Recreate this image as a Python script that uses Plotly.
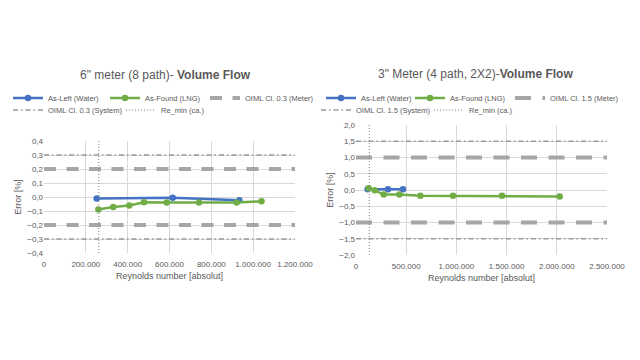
import plotly.graph_objects as go

# ---------------- data ----------------
# Left chart: 6" meter (8 path)
l_asleft_x = [252000, 615000, 934000]
l_asleft_y = [-0.010, -0.005, -0.024]
l_asfound_x = [260000, 331000, 408000, 478000, 587000, 741000, 921000, 1040000]
l_asfound_y = [-0.090, -0.071, -0.061, -0.038, -0.040, -0.040, -0.040, -0.031]
l_meter_limit = 0.2
l_system_limit = 0.3
l_remin = 262000
l_xmax = 1200000
l_ymin, l_ymax = -0.4, 0.4

# Right chart: 3" Meter (4 path, 2X2)
r_asleft_x = [116000, 319000, 468000]
r_asleft_y = [0.02, 0.02, 0.02]
r_asfound_x = [126000, 186000, 276000, 432000, 641000, 966000, 1454000, 2029000]
r_asfound_y = [0.05, -0.01, -0.14, -0.14, -0.18, -0.18, -0.18, -0.20]
r_meter_limit = 1.0
r_system_limit = 1.5
r_remin = 133000
r_xmax = 2500000
r_ymin, r_ymax = -2.0, 2.0

BLUE = "#4472C4"
GREEN = "#70AD47"
GRAY = "#A6A6A6"
DGRAY = "#999999"
TXT = "#595959"
FONT = "Liberation Sans, Arial, sans-serif"

fig = go.Figure()


def add_chart(xa, ya, lg1, lg2, ax_x, ax_y, bf_x, bf_y,
              meter, system, remin, xmax, ymin, ymax, cls, lw, mdash):
    fig.add_trace(go.Scatter(x=ax_x, y=ax_y, mode="lines+markers", name="As-Left (Water)",
                             line=dict(color=BLUE, width=2.5), marker=dict(size=6.5, color=BLUE),
                             xaxis=xa, yaxis=ya, legend=lg1, legendwidth=lw[0]))
    fig.add_trace(go.Scatter(x=bf_x, y=bf_y, mode="lines+markers", name="As-Found (LNG)",
                             line=dict(color=GREEN, width=2.5), marker=dict(size=6.5, color=GREEN),
                             xaxis=xa, yaxis=ya, legend=lg1, legendwidth=lw[1]))
    fig.add_trace(go.Scatter(x=[0, xmax, None, 0, xmax], y=[meter, meter, None, -meter, -meter],
                             mode="lines", name=f"OIML Cl. {cls} (Meter)",
                             line=dict(color=GRAY, width=4, dash=mdash),
                             xaxis=xa, yaxis=ya, legend=lg1, legendwidth=lw[2]))
    fig.add_trace(go.Scatter(x=[0, xmax, None, 0, xmax], y=[system, system, None, -system, -system],
                             mode="lines", name=f"OIML Cl. {cls} (System)",
                             line=dict(color=DGRAY, width=1.3, dash="5px,3px,1.5px,3px"),
                             xaxis=xa, yaxis=ya, legend=lg2, legendwidth=lw[3]))
    fig.add_trace(go.Scatter(x=[remin, remin], y=[ymin, ymax], mode="lines", name="Re_min (ca.)",
                             line=dict(color="#808080", width=1, dash="1px,2px"),
                             xaxis=xa, yaxis=ya, legend=lg2, legendwidth=lw[4]))


add_chart("x", "y", "legend", "legend2", l_asleft_x, l_asleft_y,
          l_asfound_x, l_asfound_y, l_meter_limit, l_system_limit, l_remin,
          l_xmax, l_ymin, l_ymax, "0.3", [52, 55, 75, 68, 50], "12px,10.5px")
add_chart("x2", "y2", "legend3", "legend4", r_asleft_x, r_asleft_y,
          r_asfound_x, r_asfound_y, r_meter_limit, r_system_limit, r_remin,
          r_xmax, r_ymin, r_ymax, "1.5", [44, 55, 75, 68, 50], "16px,11.5px")

# the page body has an 8px margin; figure sized to fill the rest
OFF = 8
W, H = 632, 352


def px(x):
    return (x - OFF) / W


def py(y):
    return 1 - (y - OFF) / H


axis_common = dict(showgrid=True, gridcolor="#D9D9D9", gridwidth=1, zeroline=False,
                   showline=False, ticks="", tickfont=dict(size=8, color=TXT, family=FONT),
                   automargin=False)
xaxis_common = dict(ticklabelstandoff=5, **axis_common)
xtitle = dict(text="Reynolds number [absolut]", font=dict(size=9, color=TXT, family=FONT), standoff=4)
ytitle = dict(text="Error [%]", font=dict(size=9, color=TXT, family=FONT), standoff=4)

leg_common = dict(orientation="h", font=dict(size=7.5, color=TXT, family=FONT),
                  bgcolor="rgba(0,0,0,0)", xanchor="left", yanchor="middle",
                  itemwidth=30, tracegroupgap=0)

fig.update_layout(
    width=W, height=H, margin=dict(l=0, r=0, t=0, b=0),
    paper_bgcolor="white", plot_bgcolor="white",
    separators=",.",
    font=dict(family=FONT, color=TXT),
    xaxis=dict(domain=[px(44), px(295)], range=[0, l_xmax], dtick=200000, tickformat=",d",
               anchor="y", title=xtitle, **xaxis_common),
    yaxis=dict(domain=[py(253), py(141)], range=[l_ymin, l_ymax], dtick=0.1, tickformat=".1f",
               anchor="x", title=ytitle, **axis_common),
    xaxis2=dict(domain=[px(356), px(607)], range=[0, r_xmax], dtick=500000, tickformat=",d",
                anchor="y2", title=xtitle, **xaxis_common),
    yaxis2=dict(domain=[py(255), py(125)], range=[r_ymin, r_ymax], dtick=0.5, tickformat=".1f",
                anchor="x2", title=ytitle, **axis_common),
    legend=dict(x=0, y=py(98), **leg_common),
    legend2=dict(x=0, y=py(110), **leg_common),
    legend3=dict(x=px(321), y=py(98), **leg_common),
    legend4=dict(x=px(316), y=py(110), **leg_common),
    annotations=[
        dict(text='6" meter (8 path)- <b>Volume Flow</b>', x=px(165), y=py(75), xref="paper", yref="paper",
             showarrow=False, font=dict(size=12, color=TXT, family=FONT), xanchor="center", yanchor="middle"),
        dict(text='3" Meter (4 path, 2X2)-<b>Volume Flow</b>', x=px(475), y=py(74), xref="paper", yref="paper",
             showarrow=False, font=dict(size=12, color=TXT, family=FONT), xanchor="center", yanchor="middle"),
    ],
)

fig.write_html("out.html")
